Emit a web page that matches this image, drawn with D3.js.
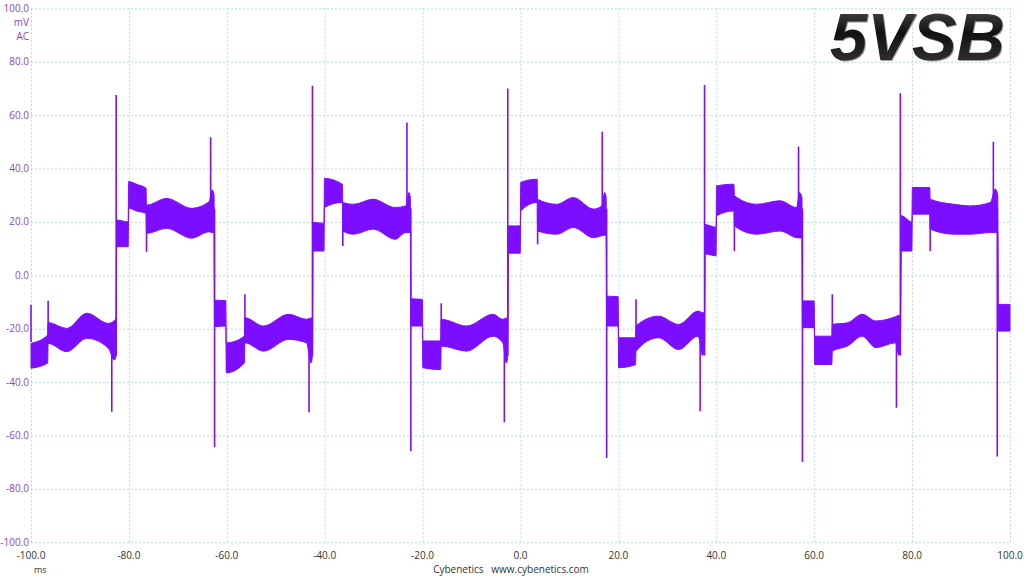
<!DOCTYPE html>
<html>
<head>
<meta charset="utf-8">
<script src="https://cdn.jsdelivr.net/npm/d3@7"></script>
<style>
	body { margin: 0; background: #fff; }
	svg { display: block; }
</style>
</head>
<body>
<script>
const w = 1024;
const h = 576;

// ripple envelope (ms, mV)
const envT = [-100, -96.6, -96.5, -92.7, -88.6, -84.2, -83.0, -82.6,
	-82.5, -80.15, -80.05, -78.3, -76.5, -76.4, -72.3, -67.2, -63.6, -63.0, -62.6,
	-62.5, -60.2, -60.1, -56.4, -56.3, -52.5, -47.4, -43.7, -42.8, -42.5,
	-42.4, -40.15, -40.05, -36.4, -36.3, -34.1, -30.1, -25.6, -23.4, -22.8, -22.5,
	-22.4, -20.05, -19.95, -16.3, -16.2, -11, -5.6, -3.6, -2.9, -2.6,
	-2.5, -0.05, 0.05, 3.4, 3.5, 7.4, 10.8, 14.9, 16.6, 17.2, 17.5,
	17.6, 19.95, 20.05, 23.5, 23.6, 28.2, 32.3, 36.3, 37.2, 37.6,
	37.7, 39.95, 40.05, 43.6, 43.7, 48.3, 53, 56.4, 57.0, 57.5,
	57.6, 60.0, 60.1, 63.6, 63.7, 66.8, 69.8, 72.6, 76.6, 77.3, 77.6,
	77.8, 79.95, 80.05, 83.6, 83.7, 88.5, 92, 96, 97.0, 97.5,
	97.6, 100];
const envHi = [-25.5, -22.4, -17.7, -19.9, -14.2, -18, -17, -16,
	20.7, 20.0, 35.1, 34, 32.6, 26.3, 28.8, 25.1, 27.6, 32, 30,
	-9.3, -9.5, -25.3, -22.8, -15.9, -19, -14.6, -16.5, -16, -16,
	19.8, 19.5, 36.3, 34.1, 27.3, 26.6, 28.5, 25.4, 26, 31, 29,
	-8.8, -9, -24.6, -24.6, -16.5, -19, -14.6, -16.5, -16, -16,
	18.5, 18.5, 34.8, 36, 28.5, 26.6, 29.1, 24.8, 26, 31, 29,
	-7.8, -8, -23.4, -23.4, -19, -15.3, -18.4, -13.4, -14, -14,
	19, 18, 33.5, 34.1, 29.8, 26.6, 27.9, 25.4, 31, 29,
	-9.6, -9.6, -22.8, -22.8, -18.4, -17.8, -14.6, -17.1, -15.5, -15, -15,
	22.3, 20, 32.9, 32.9, 28.5, 26.6, 26, 27.3, 32.3, 30,
	-10.9, -10.9];
const envLo = [-34.8, -32.9, -25.5, -28.6, -23.6, -27.3, -31.7, -30,
	10.7, 10.7, 25.1, 24, 23.2, 15.7, 17.6, 13.9, 16.3, 16, 16,
	-19.2, -19, -36.5, -32.8, -25.3, -28.4, -24, -25.3, -32.8, -30,
	9.1, 9.1, 25.4, 27.3, 16.6, 15.4, 17.3, 13.5, 16, 16, 16,
	-19, -19, -34.6, -35.3, -26.5, -28.4, -22.8, -25.3, -32.8, -30,
	8.3, 8.3, 24.1, 27.3, 16.6, 15.4, 17.9, 14.1, 14.8, 15, 15,
	-19, -19, -34.6, -33.5, -28.4, -23.4, -27.8, -22.8, -30, -28,
	8, 7.3, 22.3, 24.1, 18.5, 15.4, 16.6, 14.1, 14, 14,
	-19.6, -19.6, -33.4, -33.4, -28.4, -26.5, -22.8, -27.1, -25.3, -30, -28,
	9.1, 9.1, 22.9, 22.9, 17.3, 15.4, 15.4, 16, 16, 16,
	-20.9, -20.9];

// switching spikes (ms, start mV, peak mV)
const spikeT = [-100, -96.5, -83.5, -82.6, -76.4, -63.3, -62.5,
	-56.3, -43.2, -42.5, -36.3, -23.2, -22.4,
	-16.2, -3.3, -2.6, 3.5, 16.7, 17.6,
	23.6, 36.7, 37.6, 43.7, 56.8, 57.6,
	63.7, 76.8, 77.6, 83.7, 96.6, 97.4];
const spikeFrom = [-25, -25, -25, -30, 25, 25, 25,
	-25, -25, -30, 25, 25, 25,
	-25, -25, -30, 25, 25, 25,
	-25, -25, -30, 25, 25, 25,
	-25, -25, -30, 25, 25, 25];
const spikePeak = [-11, -9.5, -51.1, 67.5, 8.8, 51.7, -64.3,
	-7.1, -51.3, 71, 11, 57.2, -65.8,
	-10.5, -55, 70, 11.6, 53.8, -68.4,
	-9, -50.9, 71.3, 9.1, 48.2, -69.9,
	-7.1, -49.6, 68.2, 9.1, 50, -67.9];

const xTicks = [-100, -80, -60, -40, -20, 0, 20, 40, 60, 80, 100];
const yTicks = [100, 80, 60, 40, 20, 0, -20, -40, -60, -80, -100];

const traceColor = '#7d0dff';
const labelColor = '#8e44c8';
const gridColor = '#b4d9e0';
const font = "'Open Sans', sans-serif";

let x = d3.scaleLinear().domain([-100, 100]).range([31, 1010]);
let y = d3.scaleLinear().domain([-100, 100]).range([542.3, 8.3]);

let svg = d3.select('body').append('svg').attr('width', w).attr('height', h);
svg.append('rect').attr('width', w).attr('height', h).attr('fill', '#fff');

// grid
let gx = svg.append('g').attr('transform', 'translate(0,' + y(-100) + ')')
	.call(d3.axisBottom(x).tickValues(xTicks).tickSize(-(y(-100) - y(100))).tickFormat(''));
let gy = svg.append('g').attr('transform', 'translate(' + x(-100) + ',0)')
	.call(d3.axisLeft(y).tickValues(yTicks).tickSize(-(x(100) - x(-100))).tickFormat(''));
[gx, gy].forEach(function(g) {
	g.select('.domain').remove();
	g.selectAll('.tick line').attr('stroke', gridColor).attr('stroke-width', 1).attr('stroke-dasharray', '2,2');
});

// tick labels
svg.append('g').selectAll('text').data(yTicks).enter().append('text')
	.attr('x', 29).attr('y', function(d) { return y(d) + 3.5; })
	.attr('text-anchor', 'end').attr('fill', labelColor)
	.style('font-family', font).style('font-size', '10px')
	.text(function(d) { return d.toFixed(1); });
svg.append('text').attr('x', 29).attr('y', 26).attr('text-anchor', 'end').attr('fill', labelColor)
	.style('font-family', font).style('font-size', '10px').text('mV');
svg.append('text').attr('x', 29).attr('y', 40).attr('text-anchor', 'end').attr('fill', labelColor)
	.style('font-family', font).style('font-size', '10px').text('AC');

svg.append('g').selectAll('text').data(xTicks).enter().append('text')
	.attr('x', function(d) { return x(d); }).attr('y', 559)
	.attr('text-anchor', 'middle').attr('fill', '#333')
	.style('font-family', font).style('font-size', '10px')
	.text(function(d) { return d.toFixed(1); });
svg.append('text').attr('x', 34).attr('y', 573).attr('fill', '#333')
	.style('font-family', font).style('font-size', '9px').text('ms');
svg.append('text').attr('x', 511).attr('y', 573).attr('text-anchor', 'middle').attr('fill', '#333')
	.style('font-family', font).style('font-size', '10px')
	.attr('xml:space', 'preserve').text('Cybenetics   www.cybenetics.com');

// trace
const env = envT.map(function(t, i) { return { t: t, hi: envHi[i], lo: envLo[i] }; });
const area = d3.area()
	.curve(d3.curveMonotoneX)
	.x(function(d) { return x(d.t); })
	.y0(function(d) { return y(d.lo); })
	.y1(function(d) { return y(d.hi); });
svg.append('path').datum(env).attr('d', area)
	.attr('fill', traceColor).attr('stroke', traceColor).attr('stroke-width', 1).attr('stroke-linejoin', 'round');

svg.append('g').selectAll('line').data(spikeT).enter().append('line')
	.attr('x1', function(d) { return x(d); })
	.attr('x2', function(d) { return x(d); })
	.attr('y1', function(d, i) { return y(spikeFrom[i]); })
	.attr('y2', function(d, i) { return y(spikePeak[i]); })
	.attr('stroke', traceColor).attr('stroke-width', 1.6);

// title badge
const defs = svg.append('defs');
const grad = defs.append('linearGradient').attr('id', 'tg').attr('x1', 0).attr('y1', 0).attr('x2', 0).attr('y2', 1);
grad.append('stop').attr('offset', '0%').attr('stop-color', '#5a5a5a');
grad.append('stop').attr('offset', '45%').attr('stop-color', '#111');
grad.append('stop').attr('offset', '100%').attr('stop-color', '#3c3c3c');
svg.append('text').attr('x', 1006).attr('y', 61).attr('text-anchor', 'end')
	.style('font-family', "'Liberation Sans', Arial, sans-serif").style('font-size', '67px')
	.style('font-weight', 'bold').style('font-style', 'italic')
	.attr('fill', '#9a9a9a').text('5VSB');
svg.append('text').attr('x', 1005).attr('y', 60).attr('text-anchor', 'end')
	.style('font-family', "'Liberation Sans', Arial, sans-serif").style('font-size', '67px')
	.style('font-weight', 'bold').style('font-style', 'italic')
	.attr('fill', 'url(#tg)').text('5VSB');
</script>
</body>
</html>
